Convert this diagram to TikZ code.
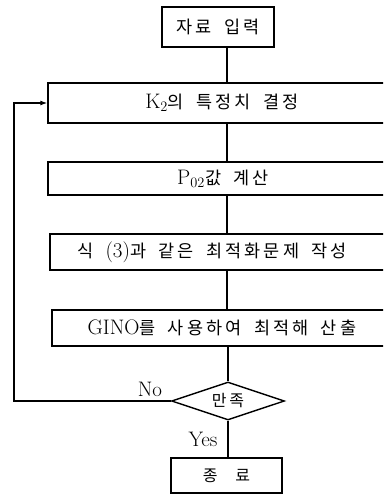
\documentclass[tikz,border=0pt]{standalone}
\usepackage{fontspec}
\newfontfamily\kr[LetterSpace=18]{Noto Sans CJK KR}
\newcommand{\K}{\kr\fontsize{17.5}{19}\selectfont}
\newcommand{\LM}{\normalfont\fontsize{21}{23}\selectfont}
\usetikzlibrary{shapes.geometric,arrows.meta,calc}
\begin{document}
\begin{tikzpicture}[x=1pt,y=-1pt,
  box/.style={draw,line width=1.4pt,inner sep=0pt},
  lbl/.style={font=\LM},
  ktxt/.style={font=\LM},
  conn/.style={line width=1.3pt}]
\clip (0,0) rectangle (383,495);
\useasboundingbox (0,0) rectangle (383,495);
\coordinate (spine) at (227,0);
\coordinate (loopx) at (14,0);
\node[box,minimum width=112pt,minimum height=40pt] (start) at (218,27) {};
\node[ktxt] at (218,27) {\K 자료\hspace{0.3em} 입력};
\node[box,minimum width=348pt,minimum height=40pt] (k2) at (222,103) {};
\node[ktxt] at (222,103) {K$_2$\K 의\hspace{0.3em} 특정치\hspace{0.3em} 결정};
\node[box,minimum width=348pt,minimum height=33pt] (p02) at (222,178.5) {};
\node[ktxt] at (223,178.5) {P$_{02}$\K 값\hspace{0.3em} 계산};
\node[box,minimum width=346pt,minimum height=36pt] (eq) at (223,252) {};
\node[ktxt] at (212,252) {\K 식\hspace{0.3em} \LM(3)\K 과\hspace{0.3em} 같은\hspace{0.3em} 최적화문제\hspace{0.3em} 작성};
\node[box,minimum width=344pt,minimum height=36pt] (gino) at (224,328) {};
\node[ktxt] at (222,328) {GINO\K 를\hspace{0.3em} 사용하여\hspace{0.3em} 최적해\hspace{0.3em} 산출};
\node[draw,line width=1.4pt,diamond,aspect=3,minimum width=113pt,minimum height=38pt,inner sep=0pt] (dia) at (228,401) {};
\node at (228,401) {\kr\fontsize{16}{17}\selectfont 만족};
\node[box,minimum width=111pt,minimum height=35pt] (end) at (226.5,475.5) {};
\node at (226.5,475.5) {\kr\fontsize{16}{17}\selectfont 종\hspace{1.1em}료};
\node[lbl] (no) at (150,389) {No};
\node[lbl] (yes) at (203,439) {Yes};
\draw[conn] (start.south -| spine) -- (k2.north -| spine);
\draw[conn] (k2.south -| spine) -- (p02.north -| spine);
\draw[conn] (p02.south -| spine) -- (eq.north -| spine);
\draw[conn] (eq.south -| spine) -- (gino.north -| spine);
\draw[conn] (gino.south -| dia.north) -- (dia.north);
\draw[conn] (dia.south) -- (end.north -| dia.south);
\draw[conn,-{Latex[length=7pt,width=5pt]}] (dia.west) -- (dia.west -| loopx) |- (k2.west);
\end{tikzpicture}
\end{document}
